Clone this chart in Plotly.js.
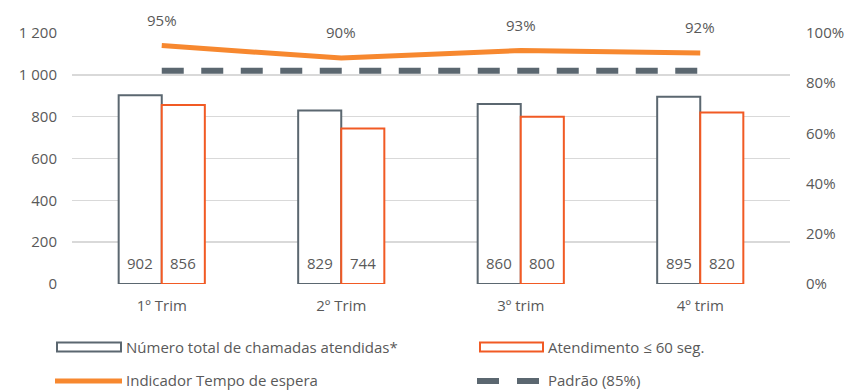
<!DOCTYPE html>
<html>
<head>
<meta charset="utf-8">
<script src="https://cdn.plot.ly/plotly-3.0.1.min.js"></script>
<style>
  html, body { margin: 0; padding: 0; background: #ffffff; }
  #chart { width: 848px; height: 390px; }
</style>
</head>
<body>
<div id="chart"></div>
<script>
// Quarterly call-centre figures
const trimestres = ['1º Trim', '2º Trim', '3º trim', '4º trim'];
const totalAtendidas = [902, 829, 860, 895];
const atendimento60 = [856, 744, 800, 820];
const indicadorEspera = [0.95, 0.90, 0.93, 0.92];
const padrao = [0.85, 0.85, 0.85, 0.85];
const yTicks = [0, 200, 400, 600, 800, 1000, 1200];

const nomes = {
  total: 'Número total de chamadas atendidas*',
  ate60: 'Atendimento ≤ 60 seg.',
  indicador: 'Indicador Tempo de espera',
  padrao: 'Padrão (85%)'
};

const W = 848, H = 390;
const M = { l: 72, r: 58, t: 33, b: 106 };
const BARGAP = 0.52;

const CINZA = '#5b6770';
const LARANJA_BARRA = '#f15a24';
const LARANJA_LINHA = '#f7882f';
const TEXTO = '#595959';
const FONTE = '"Open Sans", "Noto Sans", sans-serif';

// pixel position -> paper coordinates (used for the hand-drawn legend)
const px = p => (p - M.l) / (W - M.l - M.r);
const py = p => (H - M.b - p) / (H - M.t - M.b);

const traces = [
  {
    type: 'bar', name: nomes.total, x: trimestres, y: totalAtendidas,
    marker: { color: '#ffffff', line: { color: CINZA, width: 2 } },
    hoverinfo: 'x+y', showlegend: false
  },
  {
    type: 'bar', name: nomes.ate60, x: trimestres, y: atendimento60,
    marker: { color: '#ffffff', line: { color: LARANJA_BARRA, width: 2 } },
    hoverinfo: 'x+y', showlegend: false
  },
  {
    type: 'scatter', mode: 'lines', name: nomes.padrao, x: trimestres, y: padrao,
    yaxis: 'y2', line: { color: CINZA, width: 6, dash: '22px,17.5px' },
    hoverinfo: 'x+y', showlegend: false
  },
  {
    type: 'scatter', mode: 'lines', name: nomes.indicador, x: trimestres, y: indicadorEspera,
    yaxis: 'y2', line: { color: LARANJA_LINHA, width: 5 },
    hoverinfo: 'x+y', showlegend: false
  }
];

// value labels near the base of each bar, percentages above the line
const meiaBarra = (1 - BARGAP) / 4;
const annotations = [];
trimestres.forEach((t, i) => {
  annotations.push({
    x: i - meiaBarra, y: 0, xref: 'x', yref: 'y', text: String(totalAtendidas[i]),
    showarrow: false, yanchor: 'middle', yshift: 21,
    font: { family: FONTE, size: 15, color: TEXTO }
  });
  annotations.push({
    x: i + meiaBarra, y: 0, xref: 'x', yref: 'y', text: String(atendimento60[i]),
    showarrow: false, yanchor: 'middle', yshift: 21,
    font: { family: FONTE, size: 15, color: TEXTO }
  });
  annotations.push({
    x: i, y: indicadorEspera[i], xref: 'x', yref: 'y2',
    text: Math.round(indicadorEspera[i] * 100) + '%',
    showarrow: false, yanchor: 'middle', yshift: 26,
    font: { family: FONTE, size: 15, color: TEXTO }
  });
});

// legend, two columns by two rows below the plot
const shapes = [];
const legenda = [
  { tipo: 'rect', cor: CINZA, x0: 57, x1: 121, y: 347, ty: 347, texto: nomes.total, tx: 125 },
  { tipo: 'rect', cor: LARANJA_BARRA, x0: 480, x1: 543, y: 347, ty: 347, texto: nomes.ate60, tx: 547 },
  { tipo: 'line', cor: LARANJA_LINHA, x0: 55, x1: 122, y: 381, ty: 379.5, texto: nomes.indicador, tx: 125, w: 5 },
  { tipo: 'dash', cor: CINZA, x0: 477, x1: 539, y: 381, ty: 379.5, texto: nomes.padrao, tx: 547, w: 6 }
];
legenda.forEach(it => {
  if (it.tipo === 'rect') {
    shapes.push({
      type: 'rect', xref: 'paper', yref: 'paper',
      x0: px(it.x0), x1: px(it.x1), y0: py(it.y + 4.5), y1: py(it.y - 4.5),
      line: { color: it.cor, width: 2 }, fillcolor: '#ffffff'
    });
  } else {
    shapes.push({
      type: 'line', xref: 'paper', yref: 'paper',
      x0: px(it.x0), x1: px(it.x1), y0: py(it.y), y1: py(it.y),
      line: { color: it.cor, width: it.w, dash: it.tipo === 'dash' ? '22px,18px' : 'solid' }
    });
  }
  annotations.push({
    xref: 'paper', yref: 'paper', x: px(it.tx), y: py(it.ty),
    xanchor: 'left', yanchor: 'middle', showarrow: false, text: it.texto,
    borderpad: 0,
    font: { family: FONTE, size: 15, color: TEXTO }
  });
});

const layout = {
  width: W, height: H,
  margin: M,
  paper_bgcolor: '#ffffff', plot_bgcolor: '#ffffff',
  font: { family: FONTE, size: 15, color: TEXTO },
  separators: ', ',
  barmode: 'group', bargap: BARGAP, bargroupgap: 0,
  showlegend: false,
  xaxis: {
    type: 'category', showgrid: false, zeroline: false, showline: false,
    ticks: '', ticklabelstandoff: 11,
    tickfont: { family: FONTE, size: 15, color: TEXTO }
  },
  yaxis: {
    range: [0, 1200], tickvals: yTicks, tickformat: ',d',
    showgrid: true, gridcolor: '#d9d9d9', gridwidth: 1.5,
    zeroline: false, showline: false, ticks: '', ticklabelstandoff: 14,
    tickfont: { family: FONTE, size: 15, color: TEXTO }
  },
  yaxis2: {
    overlaying: 'y', side: 'right', range: [0, 1], dtick: 0.2, tick0: 0,
    tickformat: '.0%', showgrid: false, zeroline: false, showline: false,
    ticks: '', ticklabelstandoff: 15,
    tickfont: { family: FONTE, size: 15, color: TEXTO }
  },
  shapes: shapes,
  annotations: annotations
};

Plotly.newPlot('chart', traces, layout, { displayModeBar: false, staticPlot: true });
</script>
</body>
</html>
